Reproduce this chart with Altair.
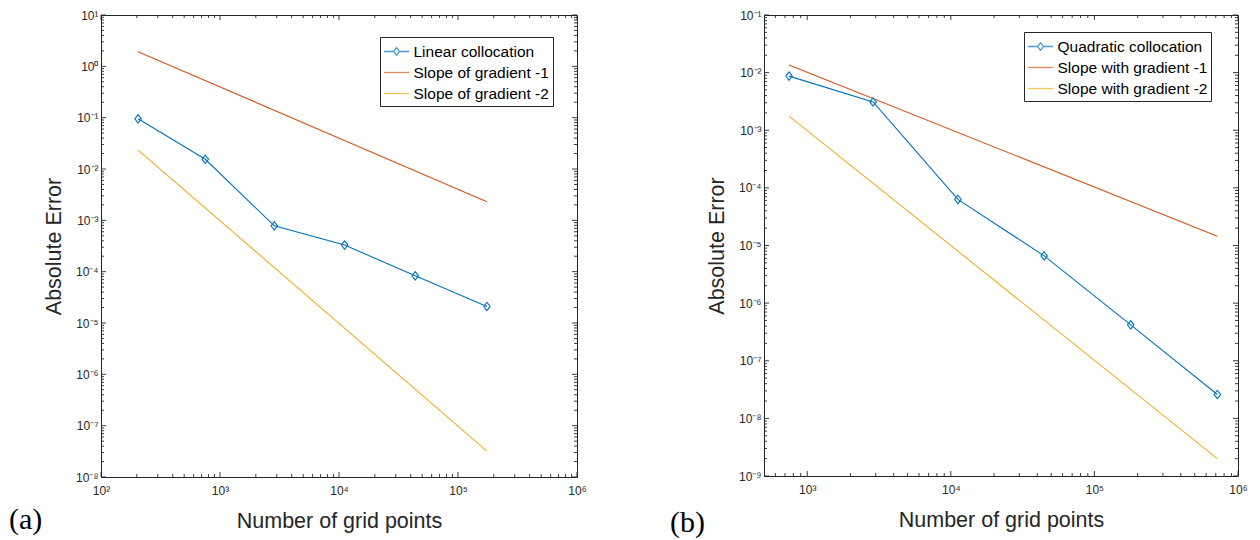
import math
import altair as alt
import pandas as pd

# ---------------- data ----------------
# panel (a)
a_x = [205, 752, 2860, 11150, 43700, 175000]
a_err = [0.095, 0.0155, 7.8e-4, 3.3e-4, 8.3e-5, 2.1e-5]
a_slope_x = [205, 175000]
a_slope1 = [1.93, 2.3e-3]
a_slope2 = [0.0234, 3.2e-8]
a_names = ["Linear collocation", "Slope of gradient -1", "Slope of gradient -2"]

# panel (b)
b_x = [747, 2877, 11200, 44700, 179000, 718000]
b_err = [8.7e-3, 3.1e-3, 6.3e-5, 6.6e-6, 4.2e-7, 2.6e-8]
b_slope_x = [747, 718000]
b_slope1 = [0.0136, 1.45e-5]
b_slope2 = [1.76e-3, 2.0e-9]
b_names = ["Quadratic collocation", "Slope with gradient -1", "Slope with gradient -2"]

x_title = "Number of grid points"
y_title = "Absolute Error"
a_tag = "(a)"
b_tag = "(b)"

a_xdomain = [100, 1e6]
a_ydomain = [1e-8, 10]
b_xdomain = [500, 1e6]
b_ydomain = [1e-9, 0.1]

COLORS = ["#0072BD", "#D95319", "#EDB120"]
AX = "#262626"
FONT = "Liberation Sans"

# ---------------- helpers ----------------
SUP = {'-': '⁻', '0': '⁰', '1': '¹', '2': '²', '3': '³', '4': '⁴',
       '5': '⁵', '6': '⁶', '7': '⁷', '8': '⁸', '9': '⁹'}
_e = "('' + round(log(datum.value)/LN10))"
for k, v in SUP.items():
    _e = f"replace({_e}, '{k}', '{v}')"
LABEL_EXPR = "'10' + " + _e

DIAMOND = "M0,-1L0.78,0L0,1L-0.78,0Z"
LEG_LINE = "M-1.25,0L1.25,0"
LEG_DIA = ("M-1.25,0L-0.3,0M0.3,0L1.25,0"
           "M0,-0.38L0.3,0L0,0.38L-0.3,0Z")


def decades(dom):
    lo = math.ceil(math.log10(dom[0]) - 1e-9)
    hi = math.floor(math.log10(dom[1]) + 1e-9)
    return [10.0 ** k for k in range(lo, hi + 1)]


def minors(dom):
    out = []
    for k in range(math.floor(math.log10(dom[0])), math.ceil(math.log10(dom[1]))):
        for m in range(2, 10):
            v = m * 10.0 ** k
            if dom[0] < v < dom[1]:
                out.append(v)
    return out


def label_axis(orient, values, title, lpad, tpad):
    return alt.Axis(orient=orient, values=values, labelExpr=LABEL_EXPR,
                    ticks=False, domain=False, grid=False,
                    labelFont=FONT, labelFontSize=12, labelColor=AX,
                    labelPadding=lpad, labelFlush=False, labelOverlap=False,
                    title=title, titleFont=FONT, titleFontSize=21.5,
                    titleFontWeight="normal", titleColor=AX, titlePadding=tpad)


def panel(xs, err, sx, s1, s2, names, xdom, ydom, tag, w, h, lx, ly, tagx, tagy):
    rows = []
    for xv, yv in zip(xs, err):
        rows.append({"series": names[0], "x": xv, "y": yv, "col": COLORS[0]})
    for xv, yv in zip(sx, s1):
        rows.append({"series": names[1], "x": xv, "y": yv, "col": COLORS[1]})
    for xv, yv in zip(sx, s2):
        rows.append({"series": names[2], "x": xv, "y": yv, "col": COLORS[2]})
    lines = pd.DataFrame(rows)
    pts = pd.DataFrame({"x": xs, "y": err})

    xs_ = alt.Scale(type="log", domain=xdom)
    ys_ = alt.Scale(type="log", domain=ydom)

    L0 = alt.Chart(lines).mark_line(strokeWidth=1.1).encode(
        x=alt.X("x:Q", scale=xs_, axis=label_axis("bottom", decades(xdom), x_title, 8, 14)),
        y=alt.Y("y:Q", scale=ys_, axis=label_axis("left", decades(ydom), y_title, 3, 10)),
        color=alt.Color("col:N", scale=None),
        detail="series:N",
    )
    L1 = alt.Chart(pts).mark_point(shape=DIAMOND, filled=False, size=70,
                                   color=COLORS[0], strokeWidth=1.1, opacity=1).encode(
        x=alt.X("x:Q", scale=xs_, axis=None),
        y=alt.Y("y:Q", scale=ys_, axis=None),
    )

    # inward tick marks on all four sides (MATLAB box style)
    tick_layers = []
    for vals, ln in ((decades(xdom), 5), (minors(xdom), 3)):
        d = pd.DataFrame({"v": vals})
        for y0, y1 in ((h, h - ln), (0, ln)):
            tick_layers.append(
                alt.Chart(d).mark_rule(color=AX, strokeWidth=0.9).encode(
                    x=alt.X("v:Q", scale=xs_, axis=None),
                    y=alt.value(y0), y2=alt.value(y1)))
    for vals, ln in ((decades(ydom), 5), (minors(ydom), 3)):
        d = pd.DataFrame({"v": vals})
        for x0, x1 in ((0, ln), (w, w - ln)):
            tick_layers.append(
                alt.Chart(d).mark_rule(color=AX, strokeWidth=0.9).encode(
                    y=alt.Y("v:Q", scale=ys_, axis=None),
                    x=alt.value(x0), x2=alt.value(x1)))

    leg = alt.Legend(title=None, orient="none", legendX=lx, legendY=ly,
                     direction="vertical", fillColor="white", strokeColor=AX,
                     padding=3.5, symbolSize=400, symbolStrokeWidth=1.3,
                     symbolOffset=2, labelFont=FONT, labelFontSize=15.5,
                     labelColor="black", labelOffset=6, rowPadding=1,
                     labelLimit=400)
    L5 = alt.Chart(lines).transform_filter("false").mark_point(
        filled=False, strokeWidth=1.3).encode(
        x=alt.X("x:Q", scale=xs_, axis=None),
        y=alt.Y("y:Q", scale=ys_, axis=None),
        color=alt.Color("series:N", scale=alt.Scale(domain=names, range=COLORS), legend=leg),
        shape=alt.Shape("series:N", scale=alt.Scale(domain=names, range=[LEG_DIA, LEG_LINE, LEG_LINE]),
                        legend=leg),
    )
    L6 = alt.Chart(pd.DataFrame({"t": [tag]})).mark_text(
        font="Liberation Serif", fontSize=30, align="left", baseline="middle",
        color="black").encode(x=alt.value(tagx), y=alt.value(tagy), text="t:N")

    return alt.layer(L0, *tick_layers, L1, L5, L6).resolve_axis(
        x="independent", y="independent").properties(width=w, height=h)


left = panel(a_x, a_err, a_slope_x, a_slope1, a_slope2, a_names,
             a_xdomain, a_ydomain, a_tag, 476, 462, 279, 22, -92, 505)
right = panel(b_x, b_err, b_slope_x, b_slope1, b_slope2, b_names,
              b_xdomain, b_ydomain, b_tag, 474, 461, 260, 17, -94, 508)

chart = alt.hconcat(left, right, spacing=82, padding=0).resolve_scale(
    color="independent", shape="independent").configure_view(
    stroke=AX, strokeWidth=1)

chart.save("out.html", embed_options={"renderer": "svg", "actions": False})
